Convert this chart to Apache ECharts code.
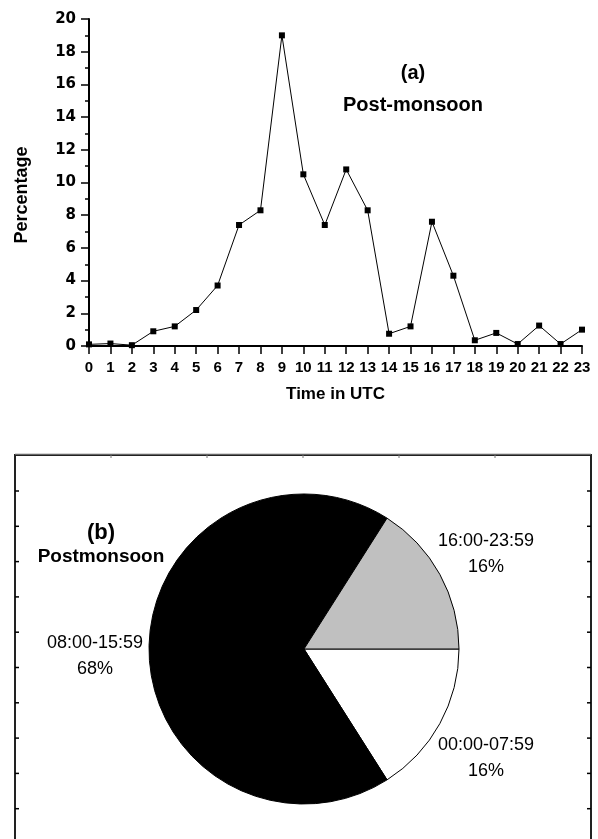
<!DOCTYPE html>
<html>
<head>
<meta charset="utf-8">
<script src="https://cdn.jsdelivr.net/npm/echarts@6/dist/echarts.min.js"></script>
<style>html,body{margin:0;padding:0;background:#fff;}#c{width:598px;height:839px;}</style>
</head>
<body>
<div id="c"></div>
<script>
// ---- data: panel (a) ----
var hours = [0,1,2,3,4,5,6,7,8,9,10,11,12,13,14,15,16,17,18,19,20,21,22,23];
var percentage = [0.1,0.15,0.05,0.9,1.2,2.2,3.7,7.4,8.3,19.0,10.5,7.4,10.8,8.3,0.75,1.2,7.6,4.3,0.35,0.8,0.12,1.25,0.12,1.0];
var yTicks = [0,2,4,6,8,10,12,14,16,18,20];
// ---- data: panel (b) ----
var periods = ['00:00-07:59','08:00-15:59','16:00-23:59'];
var shares = [16,68,16];
var sliceColors = ['#ffffff','#000000','#c0c0c0'];

var chart = echarts.init(document.getElementById('c'), null, {renderer:'canvas'});

var lineData = hours.map(function(h,i){return [h, percentage[i]];});
var pieData = periods.map(function(p,i){return {name:p, value:shares[i], itemStyle:{color:sliceColors[i]}};});

// label block centres for the pie
var labelPos = [[486,758],[95,656],[486,554]];

// decoration: y-axis title and frame for panel (b)
var deco = [];
deco.push({type:'text', x:22, y:195, rotation:Math.PI/2, style:{text:'Percentage', align:'center', verticalAlign:'middle', font:'bold 18px "Liberation Sans"', fill:'#000'}, z:5});
deco.push({type:'rect', shape:{x:15,y:455,width:576,height:460}, style:{fill:null, stroke:'#222', lineWidth:2}, z:1});
deco.push({type:'line', shape:{x1:15,y1:454,x2:591,y2:454}, style:{stroke:'#aaa', lineWidth:1}, z:1});
for (var k=0;k<10;k++){
  var yy = 491 + k*35.3;
  deco.push({type:'line', shape:{x1:15,y1:yy,x2:19,y2:yy}, style:{stroke:'#000',lineWidth:1.5}, z:1});
  deco.push({type:'line', shape:{x1:587,y1:yy,x2:591,y2:yy}, style:{stroke:'#000',lineWidth:1.5}, z:1});
}
for (var m=0;m<5;m++){
  var xx = 111 + m*96;
  deco.push({type:'line', shape:{x1:xx,y1:455,x2:xx,y2:458}, style:{stroke:'#777',lineWidth:1}, z:1});
}

var option = {
  animation:false,
  backgroundColor:'#fff',
  title:[
    {text:'(a)', left:408, top:58, textAlign:'center', textStyle:{fontFamily:'Liberation Sans', fontWeight:'bold', fontSize:20, color:'#000'}},
    {text:'Post-monsoon', left:408, top:90, textAlign:'center', textStyle:{fontFamily:'Liberation Sans', fontWeight:'bold', fontSize:20, color:'#000'}},
    {text:'(b)', left:96, top:517, textAlign:'center', textStyle:{fontFamily:'Liberation Sans', fontWeight:'bold', fontSize:22, color:'#000'}},
    {text:'Postmonsoon', left:96, top:542, textAlign:'center', textStyle:{fontFamily:'Liberation Sans', fontWeight:'bold', fontSize:19, color:'#000'}}
  ],
  grid:{left:89, right:16, top:19, height:327},
  xAxis:{
    type:'value', min:0, max:23, interval:1,
    name:'Time in UTC', nameLocation:'middle', nameGap:40,
    nameTextStyle:{fontFamily:'Liberation Sans', fontWeight:'bold', fontSize:17, color:'#000'},
    axisLine:{show:true, onZero:false, lineStyle:{color:'#000', width:2}},
    axisTick:{show:true, length:8, lineStyle:{color:'#000', width:1.5}},
    axisLabel:{fontFamily:'Liberation Sans', fontWeight:'bold', fontSize:15, color:'#000', margin:14},
    splitLine:{show:false}
  },
  yAxis:{
    type:'value', min:yTicks[0], max:yTicks[yTicks.length-1], interval:2,
    axisLine:{show:true, lineStyle:{color:'#000', width:2}},
    axisTick:{show:true, length:8, lineStyle:{color:'#000', width:1.5}},
    minorTick:{show:true, splitNumber:2, length:4, lineStyle:{color:'#000', width:1.5}},
    axisLabel:{fontFamily:'DejaVu Sans', fontWeight:'bold', fontSize:15, color:'#000', margin:13},
    splitLine:{show:false}
  },
  series:[
    {
      type:'line', data:lineData,
      symbol:'rect', symbolSize:6,
      lineStyle:{color:'#000', width:1},
      itemStyle:{color:'#000'},
      z:3
    },
    {
      type:'pie', center:[304,649], radius:155,
      startAngle:0, clockwise:true,
      data:pieData,
      itemStyle:{borderColor:'#000', borderWidth:1},
      label:{show:true, position:'outside', formatter:'{b}\n{d}%', fontFamily:'Liberation Sans', fontSize:18, lineHeight:26, color:'#000', align:'center', overflow:'none', width:200},
      labelLine:{show:false},
      labelLayout:function(p){ var q = labelPos[p.dataIndex]; return {x:q[0], y:q[1], align:'center', verticalAlign:'middle'}; },
      emphasis:{disabled:true},
      z:3
    }
  ],
  graphic:deco
};
chart.setOption(option);
</script>
</body>
</html>
